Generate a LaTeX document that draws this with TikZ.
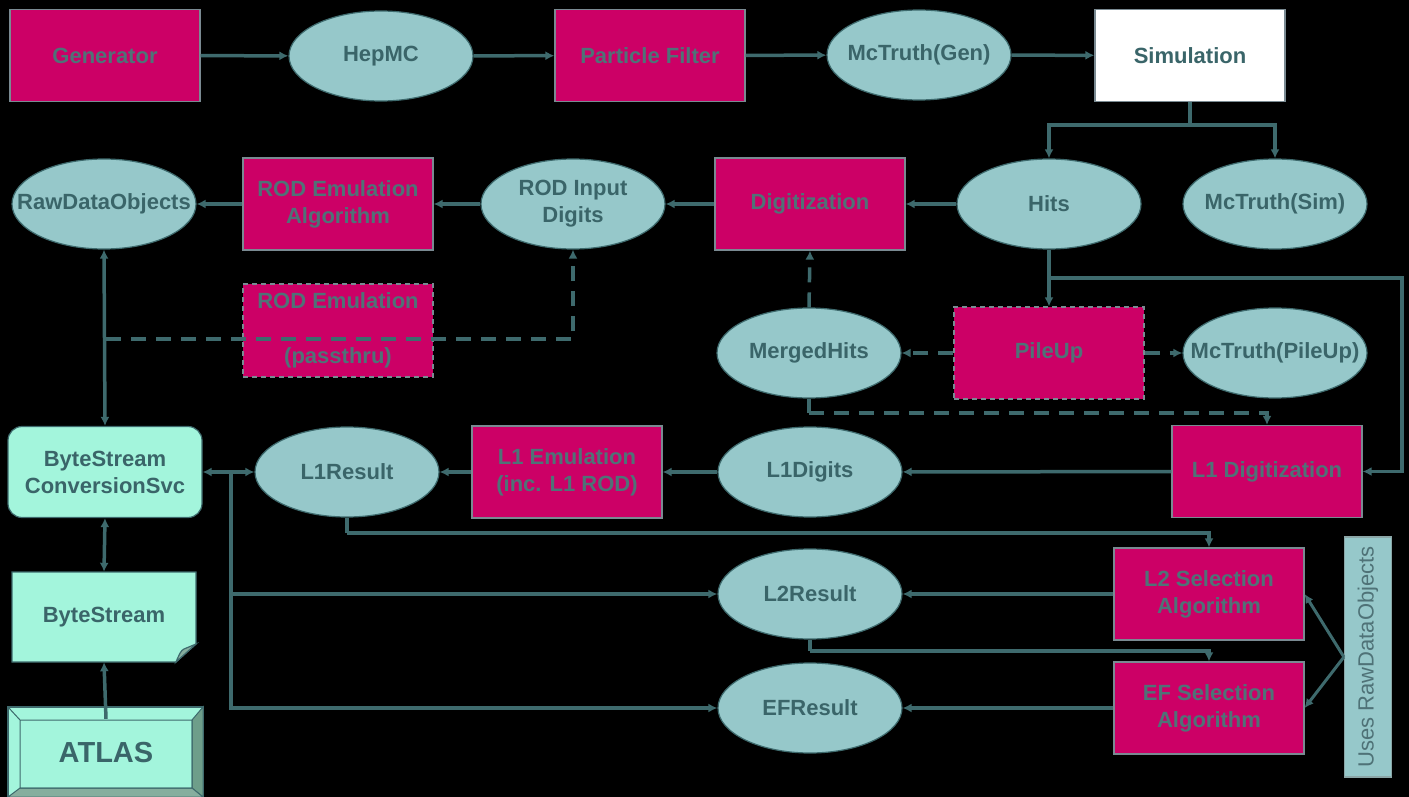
\documentclass[tikz,border=0pt]{standalone}
\usepackage{fontspec}
\setmainfont{Liberation Sans}
\usetikzlibrary{shapes.geometric,arrows.meta}
\definecolor{crim}{HTML}{CC0066}
\definecolor{boxtxt}{HTML}{4F7277}
\definecolor{ell}{HTML}{96C8CA}
\definecolor{elltxt}{HTML}{3A6569}
\definecolor{ln}{HTML}{3E6A6D}
\definecolor{aqua}{HTML}{A3F5DC}
\definecolor{bevelr}{HTML}{6E9E8A}
\definecolor{bevelb}{HTML}{86AE9E}
\definecolor{boxedge}{HTML}{7A8A92}
\begin{document}
\begin{tikzpicture}[x=1pt,y=-1pt,
  every node/.style={font=\fontsize{22}{27}\selectfont\bfseries, align=center, inner sep=0pt},
  alg/.style={rectangle, fill=crim, draw=boxedge, line width=1.2pt, text=boxtxt, minimum width=190pt, minimum height=92pt},
  dalg/.style={alg, dash pattern=on 5pt off 4pt},
  data/.style={ellipse, fill=ell, draw=ln, line width=1.2pt, text=elltxt, inner xsep=-40pt, inner ysep=-12pt, minimum width=184pt, minimum height=90pt},
  arr/.style={draw=ln, line width=3.5pt, -{Latex[length=9pt,width=9pt]}},
  darr/.style={arr, dash pattern=on 15pt off 10pt},
  dline/.style={draw=ln, line width=3.5pt, dash pattern=on 15pt off 10pt},
  sline/.style={draw=ln, line width=3.5pt},
  both/.style={draw=ln, line width=3.5pt, {Latex[length=9pt,width=9pt]}-{Latex[length=9pt,width=9pt]}},
]
\fill[black] (0,0) rectangle (1409,797);
\useasboundingbox (0,0) rectangle (1409,797);

% row 1
\node[alg] (gen) at (105,55.5) {Generator};
\node[data] (hepmc) at (381,56) {HepMC};
\node[alg] (pf) at (650,55.5) {Particle Filter};
\node[data] (mcgen) at (919,55) {McTruth(Gen)};
\node[alg, fill=white, text=elltxt] (sim) at (1190,55.5) {Simulation};

% row 2
\node[data] (hits) at (1049,204) {Hits};
\node[data] (mcsim) at (1275,204) {McTruth(Sim)};
\node[alg] (digi) at (810,204) {Digitization};
\node[data] (rodin) at (573,204) {ROD Input\\Digits};
\node[alg] (rodalg) at (338,204) {ROD Emulation\\Algorithm};
\node[data] (rdo) at (104,204) {RawDataObjects};

% row 3
\node[dalg, minimum height=93pt] (pass) at (338,330.5) {ROD Emulation\\[28pt](passthru)};
\node[data] (merged) at (809,353) {MergedHits};
\node[dalg] (pileup) at (1049,353) {PileUp};
\node[data] (mcpu) at (1275,353) {McTruth(PileUp)};

% row 4
\node[alg] (l1digi) at (1267,471.5) {L1 Digitization};
\node[data] (l1digits) at (810,472) {L1Digits};
\node[alg] (l1emu) at (567,472) {L1 Emulation\\(inc. L1 ROD)};
\node[data] (l1res) at (347,472) {L1Result};
\node[rectangle, rounded corners=14pt, fill=aqua, draw=ln, line width=1.2pt, text=elltxt, minimum width=194pt, minimum height=91pt] (bscs) at (105,472) {ByteStream\\ConversionSvc};

% ByteStream document shape
\filldraw[fill=aqua, draw=ln, line width=1.2pt] (12,572) -- (196,572) -- (196,644) -- (176,662) -- (12,662) -- cycle;
\filldraw[fill=bevelb, draw=ln, line width=1.2pt] (176,662) .. controls (179,655) and (181,650) .. (184,649) -- (196,644) -- cycle;
\node[text=elltxt, minimum width=184pt, minimum height=90pt] (bs) at (104,617) {ByteStream};

% ATLAS bevel box
\filldraw[fill=aqua, draw=ln, line width=1.2pt] (8,707) rectangle (203,797);
\filldraw[fill=bevelr, draw=ln, line width=1pt] (203,707) -- (203,797) -- (192,788) -- (192,720) -- cycle;
\filldraw[fill=bevelb, draw=ln, line width=1pt] (8,797) -- (203,797) -- (192,788) -- (20,788) -- cycle;
\draw[ln, line width=1pt] (8,707) -- (20,720) (20,720) rectangle (192,788);
\node[text=elltxt, font=\fontsize{29}{32}\selectfont\bfseries, minimum width=172pt, minimum height=68pt] (atlas) at (106,753) {ATLAS};

% L2 / EF
\node[data] (l2res) at (810,594) {L2Result};
\node[data] (efres) at (810,708) {EFResult};
\node[alg] (l2sel) at (1209,594) {L2 Selection\\Algorithm};
\node[alg] (efsel) at (1209,708) {EF Selection\\Algorithm};
\node[rectangle, rotate=90, fill=ell, draw=ln!60, line width=1.2pt, text=boxtxt, font=\fontsize{22}{26}\selectfont, minimum width=240pt, minimum height=47pt] (uses) at (1368,657) {Uses RawDataObjects};

% coordinates
\coordinate (simj) at (1190,125);
\coordinate (pj) at (106,339);
\coordinate (hj) at (1049,278);
\coordinate (rc) at (1402,278);
\coordinate (mj) at (809,413);
\coordinate (j1) at (231,472);
\coordinate (k1) at (347,533);
\coordinate (k2) at (810,651);

% connectors row 1
\draw[arr] (gen) -- (hepmc);
\draw[arr] (hepmc) -- (pf);
\draw[arr] (pf) -- (mcgen);
\draw[arr] (mcgen) -- (sim);
\draw[sline] (sim.south) -- (simj);
\draw[arr] (simj) -| (hits.north);
\draw[arr] (simj) -| (mcsim.north);

% row 2
\draw[arr] (hits) -- (digi);
\draw[arr] (digi) -- (rodin);
\draw[arr] (rodin) -- (rodalg);
\draw[arr] (rodalg) -- (rdo);
\draw[both] (bscs.north) -- (rdo.south);
\draw[darr] (pj) -| (rodin.south);

% hits to pileup / L1 digitization
\draw[arr] (hits.south) -- (pileup.north);
\draw[arr] (hj) -- (rc) |- (l1digi.east);
\draw[darr] (pileup) -- (merged);
\draw[darr] (pileup) -- (mcpu);
\draw[darr] (merged.north) -- (digi.south);
\draw[dline] (merged.south) -- (mj);
\draw[darr] (mj) -| (l1digi.north);

% row 4
\draw[arr] (l1digi) -- (l1digits);
\draw[arr] (l1digits) -- (l1emu);
\draw[arr] (l1emu) -- (l1res);
\draw[both] (bscs.east) -- (l1res.west);
\draw[arr] (j1) |- (l2res.west);
\draw[arr] (j1) |- (efres.west);
\draw[sline] (l1res.south) -- (k1);
\draw[arr] (k1) -| (l2sel.north);
\draw[sline] (l2res.south) -- (k2);
\draw[arr] (k2) -| (efsel.north);
\draw[arr] (l2sel) -- (l2res);
\draw[arr] (efsel) -- (efres);
\draw[arr, line width=3pt] (uses.north) -- (l2sel.east);
\draw[arr, line width=3pt] (uses.north) -- (efsel.east);

% bytestream chain
\draw[both] (bscs.south) -- (bs.north);
\draw[arr] (atlas.north) -- (bs.south);
\end{tikzpicture}
\end{document}
